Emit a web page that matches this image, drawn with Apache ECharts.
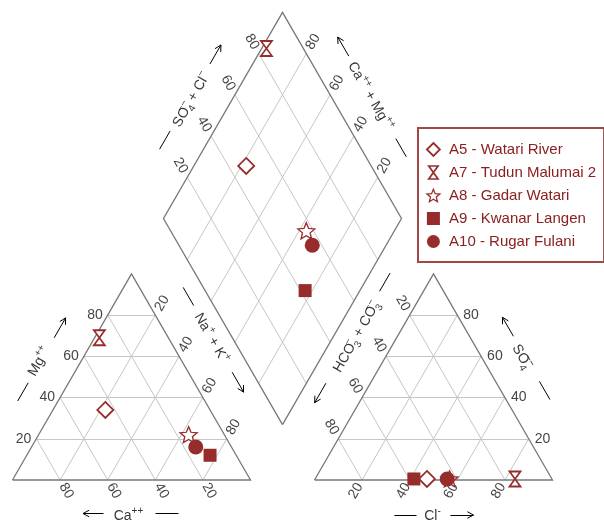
<!DOCTYPE html>
<html>
<head>
<meta charset="utf-8">
<script src="https://cdn.jsdelivr.net/npm/echarts@6/dist/echarts.min.js"></script>
<style>
  html, body { margin: 0; padding: 0; background: #fff; }
  #chart { width: 604px; height: 521px; }
</style>
</head>
<body>
<div id="chart"></div>
<script>
// ---- Samples (Piper diagram), percentages of meq/L ----
const samples = ['A5 - Watari River', 'A7 - Tudun Malumai 2', 'A8 - Gadar Watari', 'A9 - Kwanar Langen', 'A10 - Rugar Fulani'];
// cations
const ca   = [44, 29, 15, 11, 15];
const mg   = [34, 69, 22, 12, 16];
const naK  = [22,  2, 63, 77, 69];
// anions
const hco3 = [52.5, 15.5, 43, 58, 44];
const cl   = [47, 84, 56.5, 41.5, 55.5];
const so4  = [0.5, 0.5, 0.5, 0.5, 0.5];
// tick values on every ternary axis
const ticks = [20, 40, 60, 80];

// ---- layout ----
const W = 604, H = 521;
const SIDE = 238;                 // pixels per triangle side
const ORIGIN = [12.5, 480];       // pixel of the cation triangle's lower-left corner
const GAP = 64 / SIDE;            // gap between the two triangles (side units)
const OX = 1 + GAP;               // x offset of the anion triangle
const R3 = Math.sqrt(3) / 2;
const px = v => v / SIDE;         // pixel length -> plot units

const FONT = '"Liberation Sans", Arial, Helvetica, sans-serif';
const RED = '#962c2c';
const GRID = '#c6c6c6';
const EDGE = '#787878';

const add = (a, b) => [a[0] + b[0], a[1] + b[1]];
const mul = (a, k) => [a[0] * k, a[1] * k];

// ternary -> plane projections
const catXY = (c, m, n) => [n / 100 + m / 200, m / 100 * R3];
const anXY  = (h, c, s) => [OX + c / 100 + s / 200, s / 100 * R3];
const B = [1 + GAP / 2, GAP * R3];
const U = [0.5, R3], V = [-0.5, R3];
const diaXY = (n, a) => add(add(B, mul(V, 1 - n / 100)), mul(U, a / 100));

// ---- grid lines and outlines ----
const gridSegs = [];
ticks.forEach(t => {
  gridSegs.push([catXY(100 - t, t, 0), catXY(0, t, 100 - t)]);
  gridSegs.push([catXY(100 - t, 0, t), catXY(0, 100 - t, t)]);
  gridSegs.push([catXY(t, 0, 100 - t), catXY(t, 100 - t, 0)]);
  gridSegs.push([anXY(100 - t, 0, t), anXY(0, 100 - t, t)]);
  gridSegs.push([anXY(100 - t, t, 0), anXY(0, t, 100 - t)]);
  gridSegs.push([anXY(t, 100 - t, 0), anXY(t, 0, 100 - t)]);
  gridSegs.push([diaXY(t, 0), diaXY(t, 100)]);
  gridSegs.push([diaXY(0, t), diaXY(100, t)]);
});
const outlines = [
  [catXY(100, 0, 0), catXY(0, 0, 100), catXY(0, 100, 0), catXY(100, 0, 0)],
  [anXY(100, 0, 0), anXY(0, 100, 0), anXY(0, 0, 100), anXY(100, 0, 0)],
  [diaXY(100, 0), diaXY(100, 100), diaXY(0, 100), diaXY(0, 0), diaXY(100, 0)]
];

// ---- tick labels ----
const D = 13.5;
const tickData = [];
const tick = (pos, t, rot, extra) => tickData.push({ value: pos, label: Object.assign({ formatter: String(t), rotate: rot }, extra || {}) });
ticks.forEach(t => {
  tick(catXY(100 - t, t, 0), t, 0, { position: 'left', distance: 5 });
  tick(add(catXY(0, 100 - t, t), mul(U, px(D))), t, 60);
  tick(add(catXY(t, 0, 100 - t), mul([0.5, -R3], px(D - 1))), t, -60);
  tick(anXY(0, 100 - t, t), t, 0, { position: 'right', distance: 6 });
  tick(add(anXY(100 - t, t, 0), mul([-0.5, -R3], px(D - 1))), t, 60);
  tick(add(anXY(t, 0, 100 - t), mul(V, px(D))), t, -60);
  tick(add(diaXY(0, t), mul(V, px(D))), t, -60);
  tick(add(diaXY(100 - t, 100), mul(U, px(D))), t, 60);
});

// ---- axis titles with guide line and arrow ----
function frame(p0, p1, inside) {
  const L = Math.hypot(p1[0] - p0[0], p1[1] - p0[1]);
  const e = [(p1[0] - p0[0]) / L, (p1[1] - p0[1]) / L];
  const m = [(p0[0] + p1[0]) / 2, (p0[1] + p1[1]) / 2];
  let nrm = [e[1], -e[0]];
  if ((inside[0] - m[0]) * nrm[0] + (inside[1] - m[1]) * nrm[1] > 0) nrm = [-nrm[0], -nrm[1]];
  return (along, out) => [m[0] + px(along) * e[0] + px(out) * nrm[0], m[1] + px(along) * e[1] + px(out) * nrm[1]];
}
const CAT_C = catXY(33.3, 33.3, 33.4), AN_C = anXY(33.3, 33.3, 33.4), DIA_C = diaXY(50, 50);
const axisTitles = [
  { edge: [catXY(100, 0, 0), catXY(0, 100, 0)], inside: CAT_C, text: '{t|Mg}{p|++}', rot: 60, t: [-3, 36], line: [-48, -27, 35], arrow: [25, 48, 35] },
  { edge: [catXY(0, 0, 100), catXY(100, 0, 0)], inside: CAT_C, text: '{t|Ca}{p|++}', rot: 0, t: [3, 36], line: [-47, -24, 33.5], arrow: [28, 48.5, 33.5] },
  { edge: [catXY(0, 100, 0), catXY(0, 0, 100)], inside: CAT_C, text: '{t|Na}{p|+}{t| + K}{p|+}', rot: -60, t: [-23.5, 37], line: [-81.5, -60.5, 38], arrow: [16.5, 39.5, 38] },
  { edge: [anXY(0, 100, 0), anXY(0, 0, 100)], inside: AN_C, text: '{t|SO}{pz|\u2212\u2212}{b|4}', rot: -60, t: [3, 35], line: [-48, -27, 38], arrow: [25, 47, 38] },
  { edge: [anXY(100, 0, 0), anXY(0, 100, 0)], inside: AN_C, text: '{t|Cl}{p|-}', rot: 0, t: [-1, 36], line: [-39, -17, 35], arrow: [17, 40, 35] },
  { edge: [anXY(0, 0, 100), anXY(100, 0, 0)], inside: AN_C, text: '{t|HCO}{pz|\u2212}{b|3}{t| + CO}{pz|\u2212\u2212}{b|3}', rot: 60, t: [-26, 35], line: [-98, -77, 38], arrow: [29.5, 52, 38.5] },
  { edge: [diaXY(0, 0), diaXY(0, 100)], inside: DIA_C, text: '{t|SO}{pz|\u2212\u2212}{b|4}{t| + Cl}{p|\u2212}', rot: 60, t: [-2, 35], line: [-61, -40, 38], arrow: [38, 60, 37] },
  { edge: [diaXY(100, 100), diaXY(0, 100)], inside: DIA_C, text: '{t|Ca}{p|++}{t| + Mg}{p|++}', rot: -60, t: [2.5, 34], line: [-68, -47, 35], arrow: [48, 70, 35.5] }
];
const titleData = [];
const guideSegs = [];
const HEAD = px(7), HA = 28 * Math.PI / 180;
axisTitles.forEach(a => {
  const f = frame(a.edge[0], a.edge[1], a.inside);
  titleData.push({ value: f(a.t[0], a.t[1]), label: { formatter: a.text, rotate: a.rot } });
  guideSegs.push([f(a.line[0], a.line[2]), f(a.line[1], a.line[2])]);
  const p0 = f(a.arrow[0], a.arrow[2]), p1 = f(a.arrow[1], a.arrow[2]);
  guideSegs.push([p0, p1]);
  const L = Math.hypot(p1[0] - p0[0], p1[1] - p0[1]);
  const bx = -(p1[0] - p0[0]) / L, by = -(p1[1] - p0[1]) / L;
  [HA, -HA].forEach(th => {
    const c = Math.cos(th), s = Math.sin(th);
    guideSegs.push([p1, [p1[0] + HEAD * (bx * c - by * s), p1[1] + HEAD * (bx * s + by * c)]]);
  });
});

// ---- sample markers ----
function starPath() {
  const pts = [];
  for (let k = 0; k < 10; k++) {
    const r = k % 2 ? 0.45 : 1;
    const ang = Math.PI / 2 + k * Math.PI / 5;
    pts.push((r * Math.cos(ang)).toFixed(4) + ',' + (-r * Math.sin(ang)).toFixed(4));
  }
  return 'path://M' + pts.join('L') + 'Z';
}
const HOURGLASS = 'path://M0,0L10,0L0,14L10,14Z';
const STAR = starPath();
const markerStyles = [
  { symbol: 'diamond', size: [16, 16], itemStyle: { color: '#fff', borderColor: RED, borderWidth: 1.8, opacity: 1 } },
  { symbol: HOURGLASS, size: [11, 15], itemStyle: { color: '#fff', borderColor: RED, borderWidth: 1.7, opacity: 1 } },
  { symbol: STAR, size: [17, 16], itemStyle: { color: '#fff', borderColor: RED, borderWidth: 1.3, opacity: 1 } },
  { symbol: 'rect', size: 13, itemStyle: { color: RED, borderWidth: 0, opacity: 1 } },
  { symbol: 'circle', size: 15, itemStyle: { color: RED, borderWidth: 0, opacity: 1 } }
];
const sampleSeries = samples.map((name, i) => ({
  name,
  type: 'scatter',
  z: 6,
  silent: true,
  clip: false,
  symbol: markerStyles[i].symbol,
  symbolSize: markerStyles[i].size,
  itemStyle: markerStyles[i].itemStyle,
  data: [
    catXY(ca[i], mg[i], naK[i]),
    anXY(hco3[i], cl[i], so4[i]),
    diaXY(naK[i], cl[i] + so4[i])
  ]
}));

const rich = {
  t:  { fontSize: 14, fontFamily: FONT, color: '#000', lineHeight: 20 },
  p:  { fontSize: 10, fontFamily: FONT, color: '#000', verticalAlign: 'top', lineHeight: 10 },
  pz: { fontSize: 10, fontFamily: FONT, color: '#000', verticalAlign: 'top', lineHeight: 10, width: 0 },
  b:  { fontSize: 10, fontFamily: FONT, color: '#000', verticalAlign: 'bottom', lineHeight: 10 }
};

const chart = echarts.init(document.getElementById('chart'), null, { renderer: 'canvas' });
chart.setOption({
  animation: false,
  backgroundColor: '#fff',
  grid: { left: 0, right: 0, top: 0, bottom: 0, containLabel: false, outerBoundsMode: 'none' },
  xAxis: { type: 'value', show: false, min: -ORIGIN[0] / SIDE, max: (W - ORIGIN[0]) / SIDE },
  yAxis: { type: 'value', show: false, min: -(H - ORIGIN[1]) / SIDE, max: ORIGIN[1] / SIDE },
  legend: {
    orient: 'vertical',
    left: 418, top: 128,
    padding: [14, 8, 13, 8],
    itemGap: 8,
    itemWidth: 13, itemHeight: 13,
    borderColor: '#a24747', borderWidth: 2,
    selectedMode: false,
    textStyle: { color: '#8a2020', fontSize: 15, fontFamily: FONT },
    formatter: n => ' ' + n,
    data: samples.map((name, i) => ({ name, icon: markerStyles[i].symbol, itemStyle: markerStyles[i].itemStyle }))
  },
  series: [
    {
      name: 'grid', type: 'lines', coordinateSystem: 'cartesian2d', z: 1, silent: true,
      lineStyle: { color: GRID, width: 1, opacity: 1 },
      data: gridSegs.map(c => ({ coords: c }))
    },
    {
      name: 'outline', type: 'lines', coordinateSystem: 'cartesian2d', polyline: true, z: 2, silent: true,
      lineStyle: { color: EDGE, width: 1.3, opacity: 1 },
      data: outlines.map(c => ({ coords: c }))
    },
    {
      name: 'guides', type: 'lines', coordinateSystem: 'cartesian2d', z: 2, silent: true,
      lineStyle: { color: '#000', width: 1, opacity: 1 },
      data: guideSegs.map(c => ({ coords: c }))
    },
    {
      name: 'ticks', type: 'scatter', z: 3, silent: true, clip: false,
      symbolSize: 0, itemStyle: { color: 'rgba(0,0,0,0)' },
      label: { show: true, position: 'inside', color: '#111', fontSize: 14, fontFamily: FONT },
      data: tickData
    },
    {
      name: 'titles', type: 'scatter', z: 3, silent: true, clip: false,
      symbolSize: 0, itemStyle: { color: 'rgba(0,0,0,0)' },
      label: { show: true, position: 'inside', rich },
      data: titleData
    }
  ].concat(sampleSeries)
});
</script>
</body>
</html>
